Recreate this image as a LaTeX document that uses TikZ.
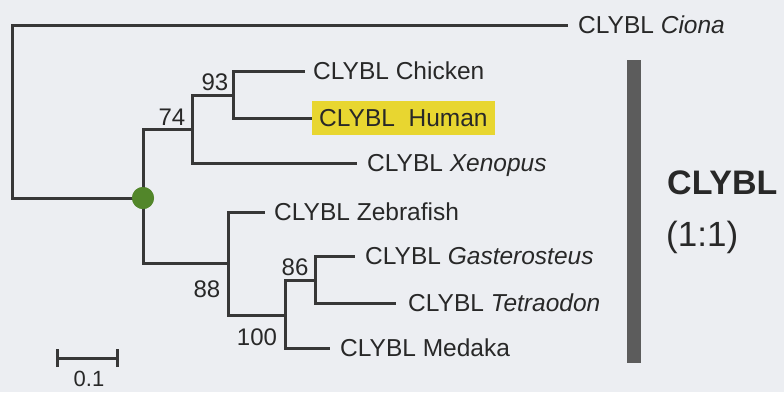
\documentclass[tikz,border=0pt]{standalone}
\usepackage{fontspec}
\setmainfont{Liberation Sans}
\definecolor{bgc}{RGB}{236,238,242}
\definecolor{linec}{RGB}{55,55,55}
\definecolor{textc}{RGB}{40,40,40}
\definecolor{hlc}{RGB}{232,214,48}
\definecolor{dotc}{RGB}{82,134,42}
\definecolor{barc}{RGB}{92,92,92}
\begin{document}
\begin{tikzpicture}[x=1pt,y=-1pt,
  branch/.style={draw=linec,line width=3pt},
  leaf/.style={anchor=west,inner ysep=0pt,text=textc,font=\fontsize{24.5}{28}\selectfont,text height=17.6pt,text depth=0pt},
  boot/.style={inner sep=0pt,text=textc,font=\fontsize{24}{28}\selectfont,text height=17.2pt,text depth=0pt},
  dotstyle/.style={circle,fill=dotc,inner sep=0pt,minimum size=22pt}
]
\fill[bgc] (0,0) rectangle (784,392);
\useasboundingbox (0,0) rectangle (784,392);

% internal nodes
\coordinate (r) at (12,112);
\coordinate (n74) at (192,129);
\coordinate (n93) at (233,95);
\coordinate (n88) at (228,263);
\coordinate (n100) at (285,315);
\coordinate (n86) at (315,280);

% leaves
\node[leaf,inner xsep=10pt] (ciona) at (568,25) {CLYBL \textit{Ciona}};
\node[leaf,inner xsep=8pt] (chicken) at (305,71) {CLYBL Chicken};
\node[leaf,inner xsep=7pt,inner ysep=8pt,fill=hlc] (human) at (312,118) {CLYBL\ \ Human};
\node[leaf,inner xsep=10pt] (xenopus) at (357,163) {CLYBL \textit{Xenopus}};
\node[leaf,inner xsep=9pt] (zebra) at (265,212) {CLYBL Zebrafish};
\node[leaf,inner xsep=10pt] (gast) at (355,256) {CLYBL \textit{Gasterosteus}};
\node[leaf,inner xsep=12pt] (tetra) at (396,303) {CLYBL \textit{Tetraodon}};
\node[leaf,inner xsep=10pt] (medaka) at (330,348) {CLYBL Medaka};

% green node
\node[dotstyle] (g) at (143,198) {};

% branches
\draw[branch] (r) |- (ciona.west);
\draw[branch] (r) |- (g.center);
\draw[branch] (g.center) |- (n74);
\draw[branch] (g.center) |- (n88);
\draw[branch] (n74) |- (n93);
\draw[branch] (n74) |- (xenopus.west);
\draw[branch] (n93) |- (chicken.west);
\draw[branch] (n93) |- (human.west);
\draw[branch] (n88) |- (zebra.west);
\draw[branch] (n88) |- (n100);
\draw[branch] (n100) |- (n86);
\draw[branch] (n100) |- (medaka.west);
\draw[branch] (n86) |- (gast.west);
\draw[branch] (n86) |- (tetra.west);
\node[dotstyle] at (g) {};

% bootstrap values
\node[boot] (b74) at (172,117) {74};
\node[boot] (b93) at (215,82) {93};
\node[boot] (b88) at (207,289) {88};
\node[boot] (b100) at (257,337) {100};
\node[boot] (b86) at (295,267) {86};

% scale bar
\coordinate (s1) at (57,358);
\coordinate (s2) at (117,358);
\draw[branch] (s1) -- (s2);
\draw[branch] ([yshift=-9pt]s1) -- ([yshift=9pt]s1);
\draw[branch] ([yshift=-9pt]s2) -- ([yshift=9pt]s2);
\node[boot,font=\fontsize{22}{26}\selectfont,text height=15.8pt] (scl) at (89,378.5) {0.1};

% grey bar and family label
\fill[barc] (627,60) rectangle (641,363);
\node[anchor=west,inner sep=0pt,text=textc,font=\fontsize{34}{38}\selectfont\bfseries,text height=24.3pt,text depth=0pt] (fam) at (667,182) {CLYBL};
\node[anchor=west,inner sep=0pt,text=textc,font=\fontsize{35}{40}\selectfont] (ratio) at (666,237) {(1:1)};
\end{tikzpicture}
\end{document}
